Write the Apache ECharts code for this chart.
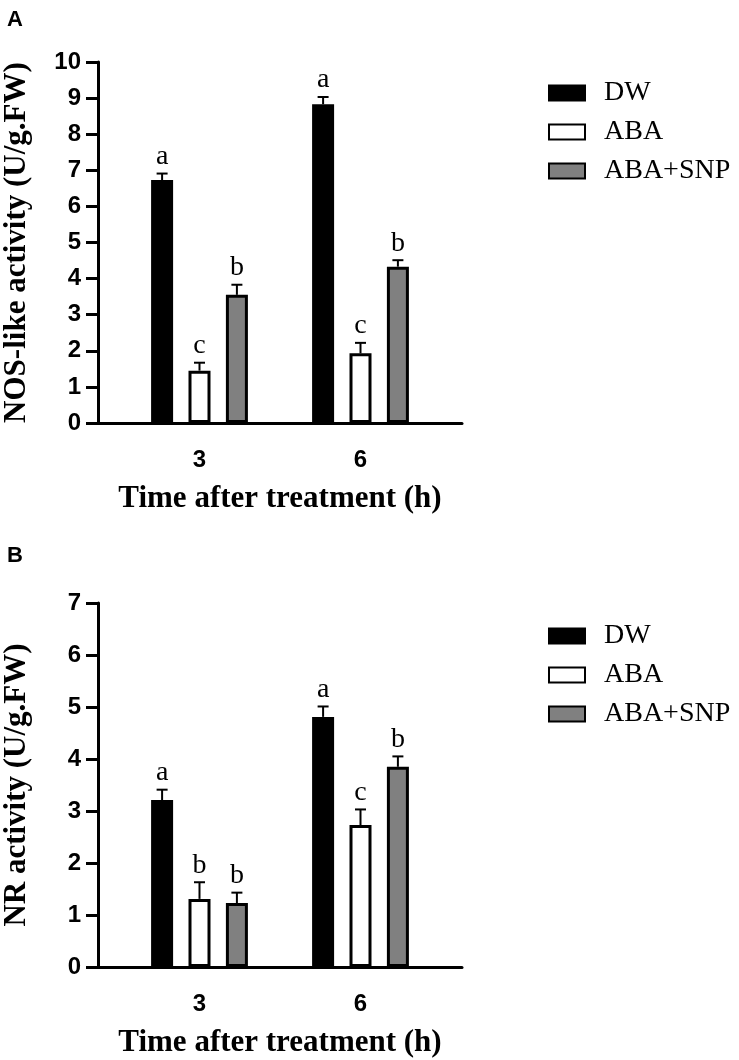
<!DOCTYPE html>
<html>
<head>
<meta charset="utf-8">
<script src="https://cdn.jsdelivr.net/npm/echarts@6/dist/echarts.min.js"></script>
<style>
html,body{margin:0;padding:0;background:#fff;}
#chart{width:739px;height:1060px;}
</style>
</head>
<body>
<div id="chart"></div>
<script>
// ---- data ----
var categories = ['3', '6'];
var seriesNames = ['DW', 'ABA', 'ABA+SNP'];

// Panel A: NOS-like activity
var nosDW = [6.73, 8.83];
var nosABA = [1.45, 1.93];
var nosSNP = [3.55, 4.33];
var nosErrDW = [0.18, 0.20];
var nosErrABA = [0.22, 0.29];
var nosErrSNP = [0.28, 0.18];
var nosLetDW = ['a', 'a'];
var nosLetABA = ['c', 'c'];
var nosLetSNP = ['b', 'b'];
var nosTicks = [0, 10, 1];

// Panel B: NR activity
var nrDW = [3.21, 4.81];
var nrABA = [1.31, 2.73];
var nrSNP = [1.23, 3.85];
var nrErrDW = [0.20, 0.20];
var nrErrABA = [0.32, 0.30];
var nrErrSNP = [0.20, 0.20];
var nrLetDW = ['a', 'a'];
var nrLetABA = ['b', 'c'];
var nrLetSNP = ['b', 'b'];
var nrTicks = [0, 7, 1];

// ---- styling ----
var fills = ['#000000', '#ffffff', '#808080'];
var BAR_W = 22, BAR_GAP = 0.70, BORDER = 3;
var SANS = 'Liberation Sans', SERIF = 'Liberation Serif';

var chart = echarts.init(document.getElementById('chart'));

function errSeries(k, means, errs, letters, gi) {
  var data = means.map(function (m, i) { return [i, m, errs[i], letters[i]]; });
  return {
    type: 'custom', xAxisIndex: gi, yAxisIndex: gi, z: 5, silent: true,
    data: data,
    renderItem: function (params, api) {
      var off = (k - 1) * BAR_W * (1 + BAR_GAP);
      var base = api.coord([api.value(0), api.value(1)]);
      var top = api.coord([api.value(0), api.value(1) + api.value(2)]);
      var x = base[0] + off;
      var cap = 5.5;
      var lw = 2;
      return {
        type: 'group',
        children: [
          { type: 'line', shape: { x1: x, y1: base[1], x2: x, y2: top[1] }, style: { stroke: '#000', lineWidth: lw } },
          { type: 'line', shape: { x1: x - cap, y1: top[1], x2: x + cap, y2: top[1] }, style: { stroke: '#000', lineWidth: lw } },
          { type: 'text', style: { text: data[params.dataIndex][3], x: x, y: top[1] - 3, align: 'center', verticalAlign: 'bottom', font: '28px "' + SERIF + '"', fill: '#000' } }
        ]
      };
    }
  };
}

function barSeries(k, vals, gi) {
  return {
    name: seriesNames[k], type: 'bar', xAxisIndex: gi, yAxisIndex: gi,
    data: vals, barWidth: BAR_W, barGap: (BAR_GAP * 100) + '%',
    itemStyle: { color: fills[k], borderColor: '#000', borderWidth: BORDER },
    emphasis: { disabled: true }, animation: false
  };
}

var panels = [
  { top: 62, bottom: 637, ticks: nosTicks, name: 'NOS-like activity (U/g.FW)', vals: [nosDW, nosABA, nosSNP], errs: [nosErrDW, nosErrABA, nosErrSNP], lets: [nosLetDW, nosLetABA, nosLetSNP], legendTop: 74 },
  { top: 603, bottom: 93, ticks: nrTicks, name: 'NR activity (U/g.FW)', vals: [nrDW, nrABA, nrSNP], errs: [nrErrDW, nrErrABA, nrErrSNP], lets: [nrLetDW, nrLetABA, nrLetSNP], legendTop: 617 }
];

var grids = [], xAxes = [], yAxes = [], series = [], legends = [];
panels.forEach(function (p, gi) {
  grids.push({ left: 119, right: 298, top: p.top, bottom: p.bottom });
  xAxes.push({
    type: 'category', data: categories, gridIndex: gi,
    axisLine: { show: false }, axisTick: { show: false },
    axisLabel: { color: '#000', fontFamily: SANS, fontWeight: 'bold', fontSize: 24, margin: 25 },
    name: 'Time after treatment (h)', nameLocation: 'middle', nameGap: 60,
    nameTextStyle: { color: '#000', fontFamily: SERIF, fontWeight: 'bold', fontSize: 31 }
  });
  yAxes.push({
    type: 'value', gridIndex: gi, min: p.ticks[0], max: p.ticks[1], interval: p.ticks[2], offset: 21,
    splitLine: { show: false },
    axisLine: { show: true, lineStyle: { color: '#000', width: 3 } },
    axisTick: { show: true, length: 12, lineStyle: { color: '#000', width: 3 } },
    axisLabel: { color: '#000', fontFamily: SANS, fontWeight: 'bold', fontSize: 24, margin: 17 },
    name: p.name, nameLocation: 'middle', nameGap: 66, nameRotate: 90,
    nameTextStyle: { color: '#000', fontFamily: SERIF, fontWeight: 'bold', fontSize: 31 }
  });
  for (var k = 0; k < 3; k++) series.push(barSeries(k, p.vals[k], gi));
  for (var k2 = 0; k2 < 3; k2++) series.push(errSeries(k2, p.vals[k2], p.errs[k2], p.lets[k2], gi));
  legends.push({
    orient: 'vertical', left: 543, top: p.legendTop, itemWidth: 36, itemHeight: 15, itemGap: 11,
    icon: 'rect', selectedMode: false, data: seriesNames,
    textStyle: { color: '#000', fontFamily: SERIF, fontSize: 28, padding: [0, 0, 0, 14] }
  });
});
// frame grids for the full-length x axis lines
panels.forEach(function (p, gi) {
  grids.push({ left: 98, right: 277, top: p.top, bottom: p.bottom });
  xAxes.push({ type: 'value', gridIndex: 2 + gi, min: 0, max: 1, axisLine: { show: true, onZero: false, lineStyle: { color: '#000', width: 3 } }, axisTick: { show: false }, axisLabel: { show: false }, splitLine: { show: false } });
  yAxes.push({ type: 'value', gridIndex: 2 + gi, min: 0, max: 1, show: false });
});

chart.setOption({
  animation: false,
  backgroundColor: '#fff',
  title: [
    { text: 'A', left: 2, top: 4, textStyle: { fontFamily: SANS, fontWeight: 'bold', fontSize: 22, color: '#000' } },
    { text: 'B', left: 2, top: 540, textStyle: { fontFamily: SANS, fontWeight: 'bold', fontSize: 22, color: '#000' } }
  ],
  legend: legends,
  grid: grids,
  xAxis: xAxes,
  yAxis: yAxes,
  series: series
});
</script>
</body>
</html>
